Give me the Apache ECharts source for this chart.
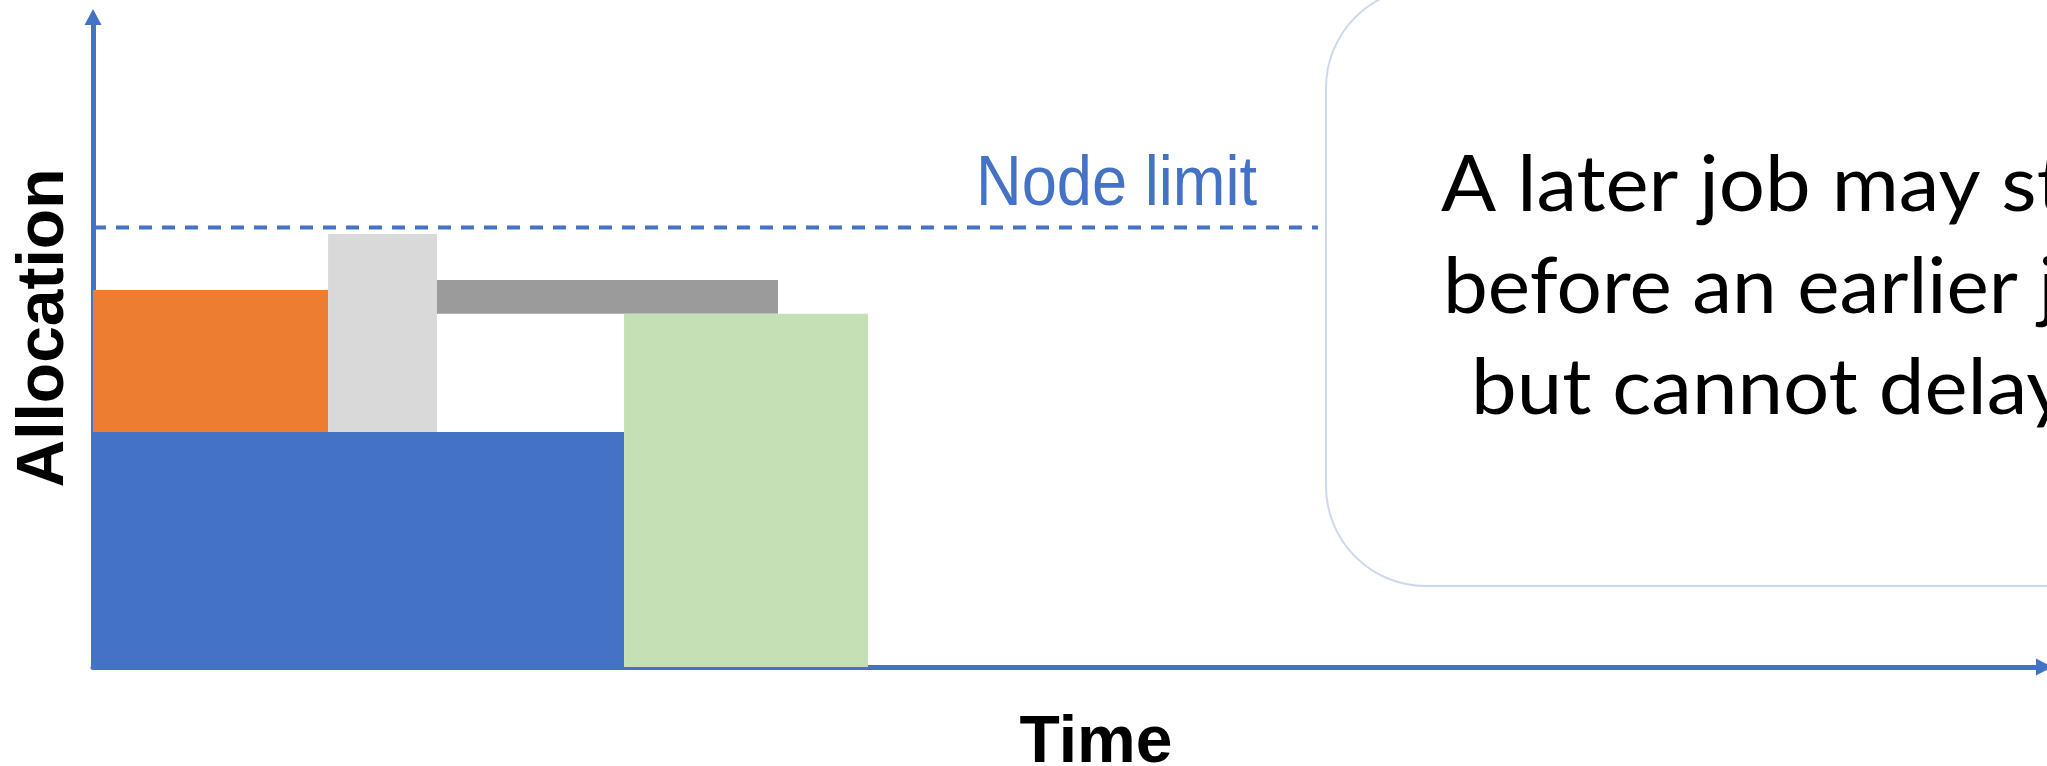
<!DOCTYPE html>
<html>
<head>
<meta charset="utf-8">
<script src="https://cdn.jsdelivr.net/npm/echarts@6/dist/echarts.min.js"></script>
<style>
  html, body { margin: 0; padding: 0; background: #ffffff; }
  #chart { width: 2047px; height: 766px; }
</style>
</head>
<body>
<div id="chart"></div>
<script>
// Jobs drawn as rectangles: time span on x, allocation span on y
const jobNames   = ['Job A', 'Job B', 'Job C', 'Job D', 'Job E'];
const timeStart  = [0,     0,     12.05, 17.63, 27.22];
const timeEnd    = [27.22, 12.05, 17.63, 35.11, 39.72];
const allocLow   = [0,     36.15, 36.15, 54.35, 0];
const allocHigh  = [36.15, 58.0,  66.6,  59.55, 54.35];
const jobColors  = ['#4472C4', '#ED7D31', '#D9D9D9', '#9B9B9B', '#C5E0B4'];

// Node limit reference line
const nodeLimit = 67.6;
const limitSpan = [0, 62.79];

const axisBlue = '#4472C4';

const chart = echarts.init(document.getElementById('chart'), null, { renderer: 'canvas' });

const jobSeries = jobNames.map(function (name, i) {
  return {
    name: name,
    type: 'custom',
    z: 2,
    data: [[timeStart[i], allocHigh[i], timeEnd[i], allocLow[i]]],
    encode: { x: [0, 2], y: [1, 3] },
    renderItem: function (params, api) {
      const topLeft = api.coord([api.value(0), api.value(1)]);
      const bottomRight = api.coord([api.value(2), api.value(3)]);
      return {
        type: 'rect',
        shape: {
          x: topLeft[0],
          y: topLeft[1],
          width: bottomRight[0] - topLeft[0],
          height: bottomRight[1] - topLeft[1]
        },
        style: { fill: jobColors[i] }
      };
    }
  };
});

const axisCommon = {
  type: 'value',
  min: 0,
  max: 100,
  axisTick: { show: false },
  axisLabel: { show: false },
  splitLine: { show: false },
  axisLine: {
    show: true,
    symbol: ['none', 'triangle'],
    symbolSize: [17, 16],
    lineStyle: { color: axisBlue, width: 5 }
  }
};

const noteFont = '77px Lato, sans-serif';

chart.setOption({
  animation: false,
  backgroundColor: '#ffffff',
  grid: { left: 93, right: 3, top: 17, bottom: 99 },
  xAxis: Object.assign({}, axisCommon),
  yAxis: Object.assign({}, axisCommon),
  series: jobSeries.concat([{
    name: 'Node limit',
    type: 'line',
    z: 3,
    symbol: 'none',
    silent: true,
    data: [[limitSpan[0], nodeLimit], [limitSpan[1], nodeLimit]],
    lineStyle: { color: axisBlue, width: 4, type: [13, 10] }
  }]),
  graphic: [
    {
      type: 'rect',
      z: 1,
      shape: { x: 1326, y: -12, width: 1000, height: 598, r: 100 },
      style: { fill: '#ffffff', stroke: '#CFD9EE', lineWidth: 2 }
    },
    {
      type: 'text',
      z: 10,
      x: 976, y: 185,
      scaleX: 0.93,
      scaleY: 1.04,
      style: {
        text: 'Node limit',
        fill: axisBlue,
        font: '68px "Liberation Sans", Arial, sans-serif',
        align: 'left',
        verticalAlign: 'middle'
      }
    },
    {
      type: 'text',
      z: 10,
      x: 1441, y: 186,
      scaleX: 1.06,
      style: { text: 'A later job may start', fill: '#000000', font: noteFont, align: 'left', verticalAlign: 'middle' }
    },
    {
      type: 'text',
      z: 10,
      x: 1443, y: 288,
      scaleX: 1.04,
      style: { text: 'before an earlier job', fill: '#000000', font: noteFont, align: 'left', verticalAlign: 'middle' }
    },
    {
      type: 'text',
      z: 10,
      x: 1471, y: 389,
      scaleX: 1.06,
      style: { text: 'but cannot delay it', fill: '#000000', font: noteFont, align: 'left', verticalAlign: 'middle' }
    },
    {
      type: 'text',
      z: 10,
      x: 45, y: 328,
      rotation: Math.PI / 2,
      style: {
        text: 'Allocation',
        fill: '#000000',
        font: 'bold 66px "Liberation Sans", Arial, sans-serif',
        align: 'center',
        verticalAlign: 'middle'
      }
    },
    {
      type: 'text',
      z: 10,
      x: 1096, y: 744,
      style: {
        text: 'Time',
        fill: '#000000',
        font: 'bold 66px "Liberation Sans", Arial, sans-serif',
        align: 'center',
        verticalAlign: 'middle'
      }
    }
  ]
});
</script>
</body>
</html>
